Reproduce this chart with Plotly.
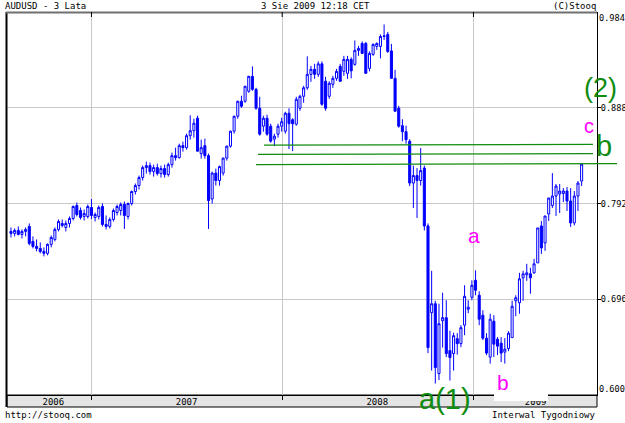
import pandas as pd
import plotly.graph_objects as go

# Weekly candles AUDUSD, week starting 2006-07-31 (157 weeks)
weeks = pd.date_range("2006-07-31", periods=157, freq="7D")

open_ = [
 .7640,.7620,.7650,.7610,.7640,.7690,.7540,.7490,.7470,.7440,.7420,.7510,.7560,.7660,.7720,.7680,.7720,.7770,.7900,.7850,.7790,.7790,
 .7880,.7780,.7790,.7890,.7710,.7690,.7760,.7830,.7850,.7910,.7790,.7920,.8040,.8100,.8180,.8280,.8300,.8240,.8280,.8220,.8270,.8210,
 .8310,.8400,.8380,.8500,.8480,.8600,.8650,.8775,.8420,.8500,.8400,.7965,.8225,.8150,.8225,.8375,.8495,.8645,.8795,.8945,.8945,.9045,
 .9195,.9065,.8875,.8695,.8775,.8695,.8565,.8615,.8695,
 .8645,.8825,.8760,.8715,.8875,.8995,.9080,.9215,.9265,.9215,.9320,.9145,.8995,.9115,.9175,.9295,.9245,.9225,.9365,.9315,.9455,.9525,
 .9525,.9275,.9415,.9495,.9495,.9595,.9615,.9450,.9175,.8875,.8700,.8640,.8545,.8125,.8200,.8150,.8275,.7695,.6825,.6915,.6215,.6745,
 .6775,.6445,.6415,.6565,.6515,.6700,.6860,.6980,
 .7150,.7000,.6800,.6570,.6380,.6740,.6560,.6520,.6430,.6465,.6575,.6945,.6925,.7175,.7205,.7215,.7225,.7325,.7695,.7525,.7815,.7900,
 .7995,.8015,.8020,.8045,.7945,.7725,.7995,.8145]
high = [
 .7680,.7670,.7690,.7660,.7680,.7720,.7590,.7560,.7530,.7480,.7520,.7600,.7680,.7760,.7760,.7750,.7790,.7900,.7930,.7880,.7860,.7910,
 .7965,.7830,.7900,.7920,.7800,.7780,.7870,.7910,.7930,.7940,.7930,.8050,.8120,.8200,.8300,.8340,.8330,.8310,.8320,.8300,.8310,.8330,
 .8430,.8480,.8520,.8540,.8620,.8805,.8770,.8800,.8560,.8570,.8420,.8240,.8270,.8300,.8380,.8500,.8650,.8800,.8950,.9000,.9100,.9200,
 .9295,.9080,.8990,.8800,.8810,.8720,.8620,.8720,.8780,
 .8840,.8875,.8775,.8990,.9010,.9100,.9395,.9300,.9320,.9345,.9345,.9190,.9145,.9200,.9270,.9320,.9400,.9400,.9385,.9555,.9500,.9545,
 .9540,.9445,.9525,.9535,.9615,.9715,.9640,.9520,.9260,.8900,.8765,.8700,.8565,.8300,.8275,.8475,.8300,.7720,.7245,.6945,.6915,.7025,
 .6950,.6645,.6625,.6620,.6700,.7100,.6950,.7150,
 .7250,.7040,.6850,.6620,.6815,.6800,.6580,.6580,.6570,.6640,.6945,.7000,.7225,.7245,.7315,.7275,.7365,.7675,.7745,.7795,.7975,.8225,
 .8115,.8115,.8075,.8085,.8075,.8045,.8145,.8315]
low = [
 .7580,.7590,.7600,.7570,.7590,.7500,.7470,.7440,.7420,.7390,.7400,.7480,.7540,.7640,.7680,.7640,.7680,.7750,.7790,.7760,.7750,.7770,
 .7765,.7740,.7760,.7690,.7660,.7670,.7740,.7800,.7800,.7665,.7760,.7900,.8010,.8060,.8150,.8220,.8210,.8190,.8200,.8180,.8180,.8190,
 .8280,.8350,.8370,.8440,.8460,.8560,.8580,.8440,.8370,.8370,.7665,.7920,.8100,.8100,.8200,.8350,.8480,.8620,.8770,.8880,.8930,.9030,
 .9050,.8860,.8600,.8640,.8600,.8530,.8495,.8580,.8640,
 .8620,.8465,.8445,.8700,.8850,.8930,.9060,.9140,.9170,.9190,.8900,.8850,.8970,.9080,.9150,.9145,.9200,.9170,.9175,.9300,.9400,.9420,
 .9225,.9245,.9400,.9460,.9375,.9560,.9430,.9175,.8845,.8680,.8545,.8520,.8095,.7875,.7775,.8100,.7650,.6420,.6245,.6115,.6150,.6475,
 .6380,.6145,.6245,.6405,.6480,.6600,.6820,.6950,
 .7000,.6700,.6550,.6400,.6315,.6380,.6400,.6330,.6315,.6440,.6575,.6790,.6815,.6945,.7145,.7015,.7215,.7325,.7415,.7445,.7745,.7875,
 .7795,.7825,.7935,.7845,.7685,.7700,.7845,.8095]
close = [
 .7620,.7650,.7610,.7640,.7660,.7520,.7490,.7470,.7440,.7420,.7510,.7580,.7660,.7740,.7700,.7720,.7770,.7890,.7810,.7780,.7820,.7890,
 .7800,.7810,.7880,.7710,.7690,.7760,.7850,.7890,.7910,.7800,.7920,.8040,.8100,.8180,.8280,.8300,.8240,.8280,.8220,.8270,.8210,.8310,
 .8400,.8380,.8500,.8480,.8600,.8650,.8725,.8445,.8480,.8400,.7950,.8225,.8150,.8290,.8375,.8495,.8645,.8795,.8945,.8895,.9095,.9195,
 .9065,.8875,.8615,.8775,.8615,.8545,.8595,.8695,.8740,
 .8825,.8720,.8720,.8965,.8995,.9080,.9215,.9265,.9215,.9320,.8915,.8875,.9125,.9175,.9245,.9145,.9365,.9365,.9250,.9455,.9475,.9425,
 .9225,.9425,.9515,.9525,.9595,.9600,.9445,.9175,.8845,.8695,.8640,.8560,.8125,.8200,.8150,.8250,.7695,.6475,.6915,.6275,.6715,.6775,
 .6415,.6375,.6595,.6515,.6675,.6990,.6880,.7100,
 .7050,.6760,.6570,.6420,.6760,.6510,.6490,.6420,.6460,.6620,.6890,.6975,.7165,.7215,.7225,.7175,.7315,.7675,.7475,.7795,.7975,.7995,
 .8095,.8045,.8045,.7945,.7725,.7995,.8125,.8315]

price_ticks = [0.888, 0.792, 0.696]
top_tick = [0.984]
bottom_tick = [0.600]
year_bounds = ["2007-01-01", "2008-01-01", "2009-01-01"]
year_mid = ["2006-10-20", "2007-07-02", "2008-07-01", "2009-04-30"]
year_labels = ["2006", "2007", "2008", "2009"]
x_range = ["2006-07-23 09:00", "2009-08-25 10:00"]
y_range = [0.600, 0.984]

BLUE = "#0000ff"
GREEN = "#108c10"
MAG = "#ff00ff"
MONO = "DejaVu Sans Mono"

fig = go.Figure()
fig.add_trace(go.Candlestick(
    x=weeks, open=open_, high=high, low=low, close=close,
    increasing=dict(line=dict(color=BLUE, width=1), fillcolor="#ffffff"),
    decreasing=dict(line=dict(color=BLUE, width=1), fillcolor=BLUE),
    whiskerwidth=0, showlegend=False, hoverinfo="skip"))
fig.add_trace(go.Scatter(x=[], y=[], yaxis="y2", showlegend=False))
fig.add_trace(go.Scatter(x=[], y=[], yaxis="y3", showlegend=False))
fig.add_trace(go.Scatter(x=[], y=[], xaxis="x2", showlegend=False))

axis_font = dict(family=MONO, size=9, color="#000000")
ytick_font = dict(family=MONO, size=8.6, color="#000000")
fig.update_layout(
    width=625, height=423,
    margin=dict(l=7, r=28, t=12, b=28, autoexpand=False),
    paper_bgcolor="#ffffff", plot_bgcolor="#ffffff",
    showlegend=False, boxgap=0.2,
    xaxis=dict(type="date", range=x_range, rangeslider=dict(visible=False),
               tickvals=year_bounds, showticklabels=False, ticks="outside",
               ticklen=4, tickcolor="#000000", showgrid=True, gridcolor="#c8c8c8",
               gridwidth=1, showline=True, linecolor="#000000", linewidth=1,
               zeroline=False, fixedrange=True, automargin=False),
    xaxis2=dict(type="date", range=x_range, overlaying="x", anchor="y", side="bottom",
                tickvals=year_mid, ticktext=year_labels, ticks="", ticklen=0,
                showgrid=False, showline=False, tickfont=axis_font, zeroline=False,
                automargin=False),
    yaxis=dict(range=y_range, side="right", tickvals=price_ticks,
               ticktext=[f"{v:.3f}" for v in price_ticks], ticks="outside", ticklen=3,
               tickcolor="#000000", showgrid=True, gridcolor="#c8c8c8", gridwidth=1,
               showline=True, linecolor="#000000", linewidth=1, tickfont=ytick_font,
               zeroline=False, automargin=False, ticklabelstandoff=-2),
    yaxis2=dict(range=y_range, overlaying="y", side="right", anchor="x",
                tickvals=top_tick, ticktext=[f"{v:.3f}" for v in top_tick],
                ticklabelposition="outside bottom", ticks="", showgrid=False,
                showline=False, tickfont=ytick_font, zeroline=False, automargin=False,
                ticklabelstandoff=1),
    yaxis3=dict(range=y_range, overlaying="y", side="right", anchor="x",
                tickvals=bottom_tick, ticktext=[f"{v:.3f}" for v in bottom_tick],
                ticklabelposition="outside top", ticks="", showgrid=False,
                showline=False, tickfont=ytick_font, zeroline=False, automargin=False,
                ticklabelstandoff=1),
)

H = 383.0  # plot height px
W = 590.0
def py(p):   # pixel y (from top of page) -> paper
    return (395.0 - p) / H
def px(p):
    return (p - 7.0) / W

shapes = []
shapes.append(dict(type="rect", xref="paper", yref="paper", x0=0, x1=1, y0=py(407), y1=py(395),
                   fillcolor="#e4e4e4", line=dict(color="#000000", width=1), layer="below"))
shapes.append(dict(type="line", xref="paper", yref="paper", x0=px(6.5), x1=px(6.5), y0=py(407), y1=py(12),
                   line=dict(color="#000000", width=2)))
shapes.append(dict(type="line", xref="paper", yref="paper", x0=px(6), x1=1, y0=py(12.5), y1=py(12.5),
                   line=dict(color="#707070", width=2)))
for yb in year_bounds:
    shapes.append(dict(type="line", xref="x", yref="paper", x0=yb, x1=yb, y0=py(12), y1=py(17),
                       line=dict(color="#000000", width=1)))
wave_lines = [((264, 0.8505), (593, 0.8512)), ((258, 0.8412), (593, 0.8420)), ((256, 0.8310), (617, 0.8320))]
for (xa, ya), (xb, yb2) in wave_lines:
    shapes.append(dict(type="line", xref="paper", yref="y", x0=px(xa), x1=px(xb), y0=ya, y1=yb2,
                       line=dict(color=GREEN, width=1.3)))
shapes.append(dict(type="rect", xref="paper", yref="paper", x0=px(494), x1=px(548), y0=py(401), y1=py(372),
                   fillcolor="#ffffff", line=dict(width=0), layer="above"))
fig.update_layout(shapes=shapes)

ann = []
def text(x, y, t, size, color, family=MONO, **kw):
    d = dict(xref="paper", yref="paper", x=px(x), y=py(y), text=t, showarrow=False,
             font=dict(family=family, size=size, color=color), xanchor="center", yanchor="middle")
    d.update(kw)
    ann.append(d)

text(3, 6, "AUDUSD - 3 Lata", 9, "#000000", xanchor="left")
text(315, 6, "3 Sie 2009 12:18 CET", 9, "#000000")
text(598, 6, "(C)Stooq", 9, "#000000", xanchor="right")
text(3, 415, "http://stooq.com", 9, "#000000", xanchor="left")
text(598, 415, "Interwal Tygodniowy", 9, "#000000", xanchor="right")

SANS = "Liberation Sans"
text(600, 88, "(2)", 27, GREEN, SANS)
text(604, 146, "b", 29, GREEN, SANS)
text(589, 126, "c", 20, MAG, SANS)
text(474, 235, "a", 21, MAG, SANS)
text(503, 382, "b", 21, MAG, SANS)
text(445, 399, "a(1)", 29, GREEN, SANS)
fig.update_layout(annotations=ann)

fig.write_html("out.html")
